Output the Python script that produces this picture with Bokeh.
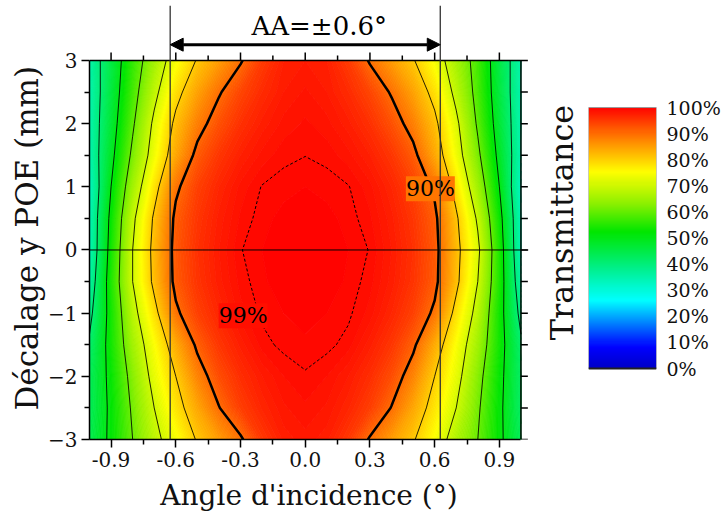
import numpy as np
from bokeh.plotting import figure
from bokeh.plotting.contour import contour_data
from bokeh.layouts import row
from bokeh.models import (Range1d, FixedTicker, NumeralTickFormatter, Span, Title,
                          Arrow, NormalHead, Label, LinearColorMapper, PrintfTickFormatter,
                          ColumnDataSource)
from bokeh.embed import file_html
from bokeh.resources import INLINE

# ---------------- data ----------------
angles = [-1.0, -0.9, -0.8, -0.7, -0.6, -0.5, -0.4, -0.3, -0.2, -0.1, 0.0,
          0.1, 0.2, 0.3, 0.4, 0.5, 0.6, 0.7, 0.8, 0.9, 1.0]
offsets = [-3.0, -2.5, -2.0, -1.5, -1.0, -0.5, 0.0, 0.5, 1.0, 1.5, 2.0, 2.5, 3.0]

t_y_m30 = [44, 51.5, 60, 68, 74, 80.6, 85, 89.3, 94.8, 97.2, 97.8, 97.2, 94.8, 89.5, 85, 80.6, 74.5, 66.5, 60, 51.5, 43]
t_y_m25 = [43, 51.5, 61, 70, 77.5, 84, 89.8, 94.2, 96.6, 97.9, 98.4, 97.9, 96.6, 94.2, 89.8, 84, 77.5, 70, 61, 51.5, 42]
t_y_m20 = [43, 52, 62.5, 72.5, 80, 87.5, 92.8, 95.8, 97.5, 98.5, 98.9, 98.5, 97.5, 95.8, 92.8, 87.5, 80, 72.5, 62.5, 52, 42]
t_y_m15 = [41, 53, 65, 74.5, 83.5, 91, 95, 97.2, 98.75, 99.2, 99.4, 99.2, 98.75, 97.2, 95, 91, 83.5, 74.5, 65, 53, 41]
t_y_m10 = [38, 53, 67.5, 78, 89, 94, 96.5, 98.3, 99.15, 99.5, 99.7, 99.5, 99.15, 98.3, 96.5, 94, 89, 78, 67.5, 53, 38]
t_y_m05 = [35, 54, 70, 81.5, 91.5, 95.2, 97.3, 98.7, 99.4, 99.8, 99.9, 99.8, 99.4, 98.7, 97.3, 95.2, 91.5, 81.5, 70, 54, 35]
t_y_00 = [33, 53, 70, 82, 91.8, 95.5, 97.5, 98.95, 99.5, 99.9, 100, 99.9, 99.5, 98.95, 97.5, 95.5, 91.8, 82, 71.5, 54, 33]
t_y_p05 = [33, 52, 68.5, 81, 91.2, 95, 97.2, 98.6, 99.3, 99.7, 99.8, 99.7, 99.3, 98.6, 97.2, 95, 91.2, 81, 69, 52.5, 33]
t_y_p10 = [32, 50, 65, 77.5, 89, 94, 96.5, 98.2, 99.05, 99.3, 99.5, 99.3, 99.05, 98.2, 96.5, 94, 89, 77.5, 65, 50, 32]
t_y_p15 = [34, 48, 61.5, 73.5, 84, 91.5, 95, 97, 98.2, 98.8, 98.98, 98.8, 98.2, 97, 95, 91.5, 84, 73.5, 61.5, 48, 34]
t_y_p20 = [34.5, 46.5, 59, 71.5, 81.5, 88, 92.5, 95.5, 97.2, 98.2, 98.6, 98.2, 97.2, 95.5, 92.5, 88, 81.5, 71.5, 59, 46.5, 34.5]
t_y_p25 = [34.5, 45.5, 57, 68, 78, 84.5, 89.5, 93.5, 96, 97.5, 98.1, 97.5, 96, 93.5, 89.5, 84.5, 78, 68, 57.5, 45.5, 34.5]
t_y_p30 = [35, 45, 55.5, 65, 74, 80.5, 85, 89.5, 94.5, 97, 97.5, 97, 94.5, 89.5, 85, 80.5, 74, 65.5, 57, 45, 35]

transmittance_rows = [t_y_m30, t_y_m25, t_y_m20, t_y_m15, t_y_m10, t_y_m05, t_y_00,
                      t_y_p05, t_y_p10, t_y_p15, t_y_p20, t_y_p25, t_y_p30]

thin_levels = [40, 50, 60, 70, 80]
main_level = [90]
peak_level = [99]

x_ticks = [-0.9, -0.6, -0.3, 0.0, 0.3, 0.6, 0.9]
x_minor = [-0.75, -0.45, -0.15, 0.15, 0.45, 0.75]
y_ticks = [-3, -2, -1, 0, 1, 2, 3]
y_minor = [-2.5, -1.5, -0.5, 0.5, 1.5, 2.5]
cbar_ticks = [0, 10, 20, 30, 40, 50, 60, 70, 80, 90, 100]
aa_limits = [-0.626, 0.626]
aa_text = "AA=\u00b10.6\u00b0"

X_LO, X_HI = -1.0, 1.0
Y_LO, Y_HI = -3.0, 3.0

# ---------------- colour map (Origin-like rainbow) ----------------
anch_v = [0, 8, 17, 26, 38, 52, 63, 75, 88, 100]
anch_rgb = [(0, 0, 200), (0, 0, 255), (0, 128, 255), (0, 255, 255), (0, 240, 140),
            (0, 230, 0), (140, 240, 0), (255, 255, 0), (255, 128, 0), (255, 0, 0)]


def cmap(v):
    r = np.interp(v, anch_v, [c[0] for c in anch_rgb])
    g = np.interp(v, anch_v, [c[1] for c in anch_rgb])
    b = np.interp(v, anch_v, [c[2] for c in anch_rgb])
    return "#%02x%02x%02x" % (int(round(r)), int(round(g)), int(round(b)))


palette256 = [cmap(v) for v in np.linspace(0, 100, 256)]

FONT = "DejaVu Serif"
Z = np.array(transmittance_rows, dtype=float)

H = 517
BORDER_TOP, BORDER_BOTTOM = 5, 78

# ---------------- main figure ----------------
p = figure(width=529, height=H, output_backend="svg", toolbar_location=None,
           x_range=Range1d(X_LO, 1.035), y_range=Range1d(Y_LO, 3.87),
           min_border_left=89, min_border_right=1, min_border_top=BORDER_TOP,
           min_border_bottom=BORDER_BOTTOM)
p.outline_line_color = None
p.grid.visible = False
p.background_fill_color = "white"

# filled contour (fine bands for a smooth gradient)
fill_levels = list(np.arange(25, 100.0, 0.5)) + [100.01]
fd = contour_data(angles, offsets, Z, fill_levels, want_fill=True, want_line=False).fill_data
band_colors = [cmap((lo + hi) / 2.0) for lo, hi in zip(fd.lower_levels, fd.upper_levels)]
fsrc = ColumnDataSource(dict(xs=fd.xs, ys=fd.ys, color=band_colors))
p.multi_polygons(xs="xs", ys="ys", fill_color="color", line_color="color",
                 line_width=0.8, source=fsrc)

# contour lines
ld = contour_data(angles, offsets, Z, thin_levels, want_fill=False, want_line=True).line_data
p.multi_line(xs=ld.xs, ys=ld.ys, line_color="black", line_width=1, line_alpha=0.85)
ld90 = contour_data(angles, offsets, Z, main_level, want_fill=False, want_line=True).line_data
p.multi_line(xs=ld90.xs, ys=ld90.ys, line_color="black", line_width=2.5)
ld99 = contour_data(angles, offsets, Z, peak_level, want_fill=False, want_line=True).line_data
p.multi_line(xs=ld99.xs, ys=ld99.ys, line_color="black", line_width=1, line_dash="3 2")

# contour labels
p.add_layout(Label(x=0.58, y=0.97, text="90%", text_align="center", text_baseline="middle",
                   text_font=FONT, text_font_size="22px", text_color="black",
                   background_fill_color=cmap(89), background_fill_alpha=1.0))
p.add_layout(Label(x=-0.288, y=-1.04, text="99%", text_align="center", text_baseline="middle",
                   text_font=FONT, text_font_size="22px", text_color="black",
                   background_fill_color=cmap(98.6), background_fill_alpha=1.0))

# reference lines
p.add_layout(Span(location=0, dimension="width", line_color="black", line_width=1))
for a in aa_limits:
    p.add_layout(Span(location=a, dimension="height", line_color="#333333", line_width=1.3))

# box: top and right borders with outward ticks
p.segment(x0=[X_LO, X_HI], y0=[Y_HI, Y_LO], x1=[X_HI, X_HI], y1=[Y_HI, Y_HI],
          line_color="black", line_width=1.5)
p.segment(x0=x_ticks, y0=[Y_HI] * len(x_ticks), x1=x_ticks, y1=[Y_HI + 0.127] * len(x_ticks),
          line_color="black", line_width=1.5)
p.segment(x0=x_minor, y0=[Y_HI] * len(x_minor), x1=x_minor, y1=[Y_HI + 0.08] * len(x_minor),
          line_color="black", line_width=1.5)
right_ticks = y_ticks + y_minor
p.segment(x0=[X_HI] * len(right_ticks), y0=right_ticks, x1=[X_HI + 0.032] * len(right_ticks),
          y1=right_ticks, line_color="black", line_width=1.5)

# arrow + AA label
head = dict(size=13, fill_color="black", line_color="black")
p.add_layout(Arrow(x_start=aa_limits[0], y_start=3.25, x_end=aa_limits[1], y_end=3.25,
                   start=NormalHead(**head), end=NormalHead(**head),
                   line_color="black", line_width=3))
p.add_layout(Label(x=0.065, y=3.55, text=aa_text, text_align="center", text_baseline="middle",
                   text_font=FONT, text_font_size="26px", text_color="black"))

# axes
xa = p.xaxis[0]
xa.ticker = FixedTicker(ticks=x_ticks, minor_ticks=x_minor)
xa.formatter = NumeralTickFormatter(format="0.0")
xa.axis_label = "Angle d'incidence (\u00b0)"
xa.bounds = (X_LO, X_HI)
ya = p.yaxis[0]
ya.ticker = FixedTicker(ticks=y_ticks, minor_ticks=y_minor)
ya.bounds = (Y_LO, Y_HI)

for ax in [xa, ya]:
    ax.axis_line_color = "black"
    ax.axis_line_width = 1.5
    ax.major_tick_line_color = "black"
    ax.major_tick_line_width = 1.5
    ax.minor_tick_line_color = "black"
    ax.minor_tick_line_width = 1.5
    ax.major_tick_in = 0
    ax.major_tick_out = 8
    ax.minor_tick_in = 0
    ax.minor_tick_out = 5
    ax.major_label_text_font = FONT
    ax.major_label_text_font_size = "20px"
    ax.major_label_text_color = "#111111"
    ax.axis_label_text_font = FONT
    ax.axis_label_text_font_style = "normal"
    ax.axis_label_text_color = "#111111"
xa.major_label_standoff = 4
xa.axis_label_standoff = 9
ya.major_label_standoff = 4
xa.axis_label_text_font_size = "28px"

# y title (side panel, rotated); starts near the bottom of the data box
p.add_layout(Title(text="D\u00e9calage y POE (mm)", align="left", offset=29, standoff=2,
                   text_font=FONT, text_font_size="31px", text_font_style="normal",
                   text_color="#111111"), "left")

# ---------------- colour bar figure (same top/bottom borders as main) ----------------
# bar occupies 0..100 inside a taller range so it sits at the reference height
p2 = figure(width=194, height=H, output_backend="svg", toolbar_location=None,
            x_range=Range1d(0, 1), y_range=Range1d(-27.2, 139.1),
            min_border_left=59, min_border_right=66, min_border_top=BORDER_TOP,
            min_border_bottom=BORDER_BOTTOM, y_axis_location="right")
p2.grid.visible = False
p2.xaxis.visible = False
p2.outline_line_color = None
mapper = LinearColorMapper(palette=palette256, low=0, high=100)
grad = np.linspace(0, 100, 256).reshape(-1, 1)
p2.image(image=[grad], x=0, y=0, dw=1, dh=100, color_mapper=mapper)
p2.quad(left=[0], right=[1], bottom=[0], top=[100], fill_color=None,
        line_color="#999999", line_width=1)
p2.segment(x0=[0], y0=[0], x1=[1], y1=[0], line_color="#222222", line_width=2)
cy = p2.yaxis[0]
cy.ticker = FixedTicker(ticks=cbar_ticks)
cy.formatter = PrintfTickFormatter(format="%d%%")
cy.axis_line_color = None
cy.major_tick_out = 0
cy.major_tick_in = 0
cy.minor_tick_line_color = None
cy.major_label_text_font = FONT
cy.major_label_text_font_size = "19px"
cy.major_label_text_color = "#111111"
cy.major_label_standoff = 10
p2.add_layout(Title(text="Transmittance", align="center", offset=4, standoff=15,
                    text_font=FONT, text_font_size="32px", text_font_style="normal",
                    text_color="#111111"), "left")

layout = row(p, p2)
open("out.html", "w").write(file_html(layout, INLINE))
